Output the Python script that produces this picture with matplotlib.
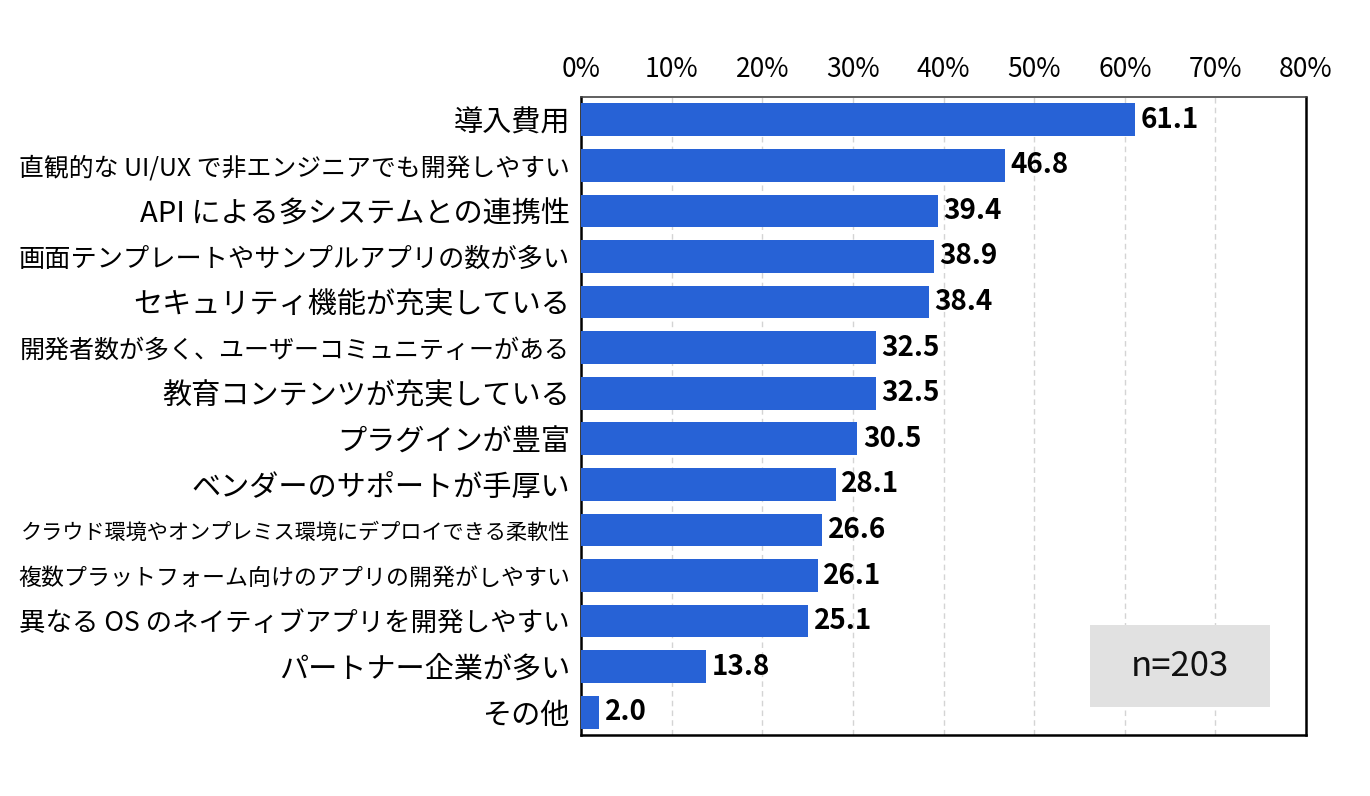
import matplotlib
matplotlib.use("Agg")
import matplotlib.pyplot as plt
from matplotlib.patches import Rectangle

plt.rcParams['font.family'] = ['Noto Sans CJK JP', 'DejaVu Sans']

categories = [
    "導入費用",
    "直観的な UI/UX で非エンジニアでも開発しやすい",
    "API による多システムとの連携性",
    "画面テンプレートやサンプルアプリの数が多い",
    "セキュリティ機能が充実している",
    "開発者数が多く、ユーザーコミュニティーがある",
    "教育コンテンツが充実している",
    "プラグインが豊富",
    "ベンダーのサポートが手厚い",
    "クラウド環境やオンプレミス環境にデプロイできる柔軟性",
    "複数プラットフォーム向けのアプリの開発がしやすい",
    "異なる OS のネイティブアプリを開発しやすい",
    "パートナー企業が多い",
    "その他",
]
values = [61.1, 46.8, 39.4, 38.9, 38.4, 32.5, 32.5, 30.5, 28.1, 26.6, 26.1, 25.1, 13.8, 2.0]
x_ticks = [0, 10, 20, 30, 40, 50, 60, 70, 80]
sample_note = "n=203"

bar_color = "#2762D6"
label_size = 21

W, H = 1370, 796
fig = plt.figure(figsize=(W / 100, H / 100), dpi=100)
ax = fig.add_axes([581 / W, 1 - 735 / H, (1306 - 581) / W, (735 - 97) / H])

ypos = list(range(len(categories)))
ax.barh(ypos, values, height=0.72, color=bar_color, zorder=3)

for y, v in zip(ypos, values):
    ax.text(v + 0.6, y, f"{v:.1f}", va="center", ha="left",
            fontsize=20, fontweight="bold", color="black", zorder=4)

ax.set_xlim(0, 80)
ax.set_ylim(len(categories) - 0.5, -0.5)
ax.set_xticks(x_ticks)
ax.set_xticklabels([f"{t}%" for t in x_ticks], fontsize=19)
ax.xaxis.tick_top()
ax.set_yticks(ypos)
ax.set_yticklabels(categories, fontsize=label_size)
ax.tick_params(axis="both", length=0)
ax.tick_params(axis="x", pad=10)
ax.tick_params(axis="y", pad=8)
ax.grid(axis="x", linestyle=(0, (4, 3)), color="#d4d4d4", linewidth=1, zorder=0)

for side in ["left", "right", "bottom"]:
    ax.spines[side].set_color("black")
    ax.spines[side].set_linewidth(1.8)
ax.spines["top"].set_color("#444444")
ax.spines["top"].set_linewidth(1.2)

# shrink labels that run past the left edge
fig.canvas.draw()
renderer = fig.canvas.get_renderer()
max_w = 550
for lab in ax.get_yticklabels():
    w = lab.get_window_extent(renderer).width
    if w > max_w:
        lab.set_fontsize(label_size * max_w / w)

fig.patches.append(Rectangle((1090 / W, 1 - 707 / H), 180 / W, 82 / H,
                             transform=fig.transFigure, facecolor="#e1e1e1",
                             edgecolor="none", zorder=5))
fig.text(1180 / W, 1 - 666 / H, sample_note, ha="center", va="center",
         fontsize=25, color="#111111", zorder=6)

fig.savefig("out.png", dpi=100)
